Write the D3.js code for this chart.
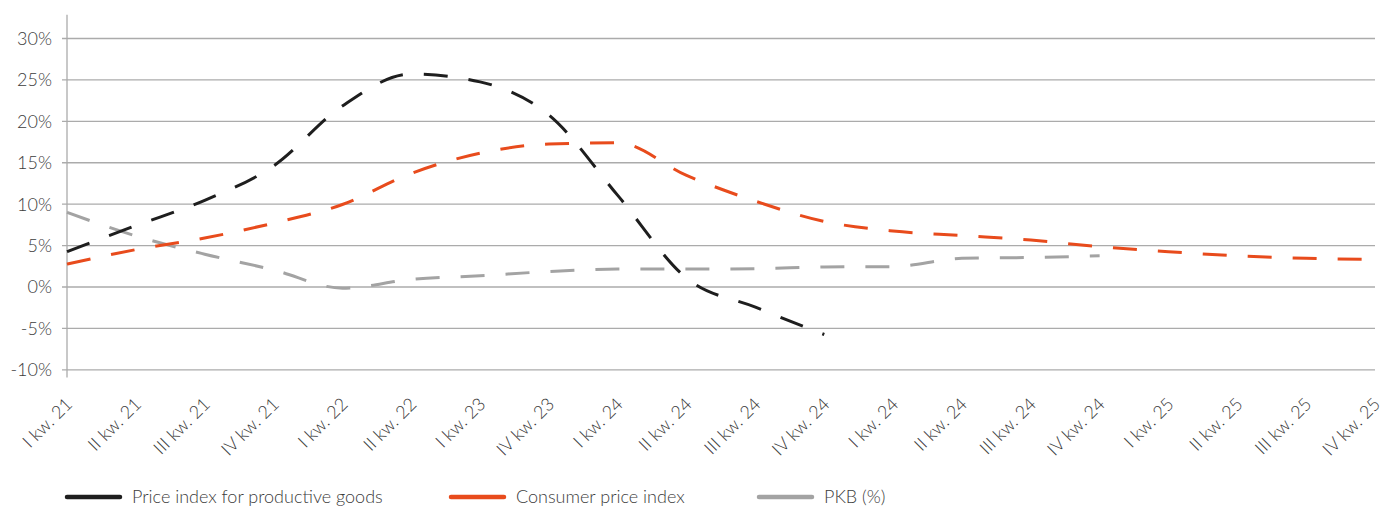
<!DOCTYPE html>
<html>
<head>
<meta charset="utf-8">
<script src="https://cdn.jsdelivr.net/npm/d3@7"></script>
<style>
  html, body { margin: 0; padding: 0; background: #fff; }
  svg { display: block; }
  text { font-family: Lato, "Open Sans", sans-serif; font-weight: 300; fill: #3c3c3c; }
</style>
</head>
<body>
<svg id="chart" width="1385" height="507"></svg>
<script>
// Quarter labels along the horizontal axis
const categories = [
  "I kw. 21", "II kw. 21", "III kw. 21", "IV kw. 21",
  "I kw. 22", "II kw. 22", "I kw. 23", "IV kw. 23",
  "I kw. 24", "II kw. 24", "III kw. 24", "IV kw. 24",
  "I kw. 24", "II kw. 24", "III kw. 24", "IV kw. 24",
  "I kw. 25", "II kw. 25", "III kw. 25", "IV kw. 25"
];

// Price index for productive goods (%, y/y)
const productiveGoods = [4.2, 7.35, 10.4, 14.55, 21.8, 25.65, 24.7, 20.7, 11.0, 1.0, -2.5, -5.8];

// Consumer price index (%, y/y)
const consumerPrices = [2.7, 4.45, 5.85, 7.65, 9.9, 13.65, 16.1, 17.2, 17.35, 13.4,
                        10.3, 7.85, 6.7, 6.15, 5.6, 4.8, 4.2, 3.7, 3.4, 3.25];

// GDP growth (%)
const gdp = [8.95, 6.1, 3.9, 2.0, -0.2, 0.85, 1.3, 1.8, 2.1, 2.1, 2.15, 2.35, 2.4, 3.4, 3.5, 3.7];

// Value axis ticks
const yTicks = [-10, -5, 0, 5, 10, 15, 20, 25, 30];

const seriesNames = ["Price index for productive goods", "Consumer price index", "PKB (%)"];
const seriesColors = ["#1e1e1e", "#e84b1c", "#a3a3a3"];

const svg = d3.select("#chart");
const plotLeft = 67, plotRight = 1375, plotTop = 38, plotBottom = 369.3;

const x = d3.scalePoint().domain(d3.range(categories.length)).range([plotLeft, plotRight]);
const y = d3.scaleLinear().domain([-10, 30]).range([plotBottom, plotTop]);

// Horizontal gridlines with short outward ticks
const yAxis = svg.append("g")
  .attr("transform", `translate(${plotLeft},0)`)
  .call(d3.axisLeft(y).tickValues(yTicks).tickSize(5).tickPadding(10)
        .tickFormat(d => `${d}%`));
yAxis.select(".domain").remove();
yAxis.selectAll(".tick line")
  .attr("x2", plotRight - plotLeft)
  .attr("x1", -5)
  .attr("stroke", "#ababab")
  .attr("stroke-width", 1.3);
yAxis.selectAll(".tick text")
  .attr("font-size", 18)
  .attr("x", -15)
  .attr("dy", "0.36em");

// Vertical value-axis line
svg.append("line")
  .attr("x1", plotLeft).attr("x2", plotLeft)
  .attr("y1", y(32.8)).attr("y2", y(-11))
  .attr("stroke", "#ababab")
  .attr("stroke-width", 1.3);

// Category labels, rotated
const xAxis = svg.append("g")
  .attr("transform", `translate(0,${plotBottom})`)
  .call(d3.axisBottom(x).tickSize(0).tickFormat(i => categories[i]));
xAxis.select(".domain").remove();
xAxis.selectAll(".tick text")
  .attr("font-size", 18)
  .attr("text-anchor", "end")
  .attr("y", 0)
  .attr("dy", 0)
  .attr("transform", "translate(6,36) rotate(-45)");

// Dashed smoothed series lines
const line = d3.line()
  .x((d, i) => x(i))
  .y(d => y(d))
  .curve(d3.curveMonotoneX);

const seriesData = [productiveGoods, consumerPrices, gdp];
// draw order: GDP at the back, then CPI, then productive goods on top
[2, 1, 0].forEach(k => {
  svg.append("path")
    .datum(seriesData[k])
    .attr("d", line)
    .attr("fill", "none")
    .attr("stroke", seriesColors[k])
    .attr("stroke-width", 3)
    .attr("stroke-dasharray", "24 21");
});

// Legend
const legendX = [67, 451, 759];
const legend = svg.append("g");
seriesNames.forEach((name, k) => {
  const g = legend.append("g").attr("transform", `translate(${legendX[k]},497)`);
  g.append("line")
    .attr("x1", 0).attr("x2", 53)
    .attr("stroke", seriesColors[k])
    .attr("stroke-width", 4.5)
    .attr("stroke-linecap", "round");
  g.append("text")
    .attr("x", 65)
    .attr("y", 6)
    .attr("font-size", 18)
    .text(name);
});
</script>
</body>
</html>
